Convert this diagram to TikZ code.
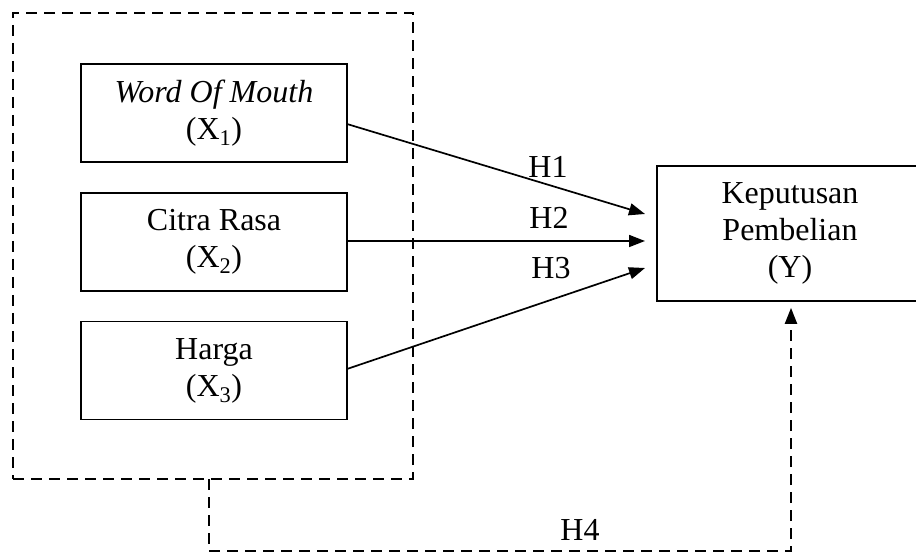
\documentclass[tikz,border=0pt]{standalone}
\usepackage{fontspec}
\setmainfont{Liberation Serif}
\usetikzlibrary{arrows.meta}
\begin{document}
\begin{tikzpicture}[x=1pt,y=-1pt,
  every node/.style={font=\fontsize{32}{37}\selectfont},
  varbox/.style={draw, line width=1.7pt, align=center, inner sep=0pt,
    minimum width=266pt, minimum height=98pt},
  groupbox/.style={draw, line width=2.1pt, dash pattern=on 11pt off 7pt,
    minimum width=400pt, minimum height=466pt, inner sep=0pt},
  link/.style={line width=1.7pt, -{Triangle[length=16pt,width=12pt]}},
  dlink/.style={line width=2.1pt, dash pattern=on 11pt off 7pt,
    -{Triangle[length=16pt,width=12pt]}},
  lbl/.style={inner sep=0pt}]
\clip (0,0) rectangle (916,553);
\useasboundingbox (0,0) rectangle (916,553);
\node[groupbox] (group) at (213,246) {};
\node[varbox] (x1) at (214,113) {\textit{Word Of Mouth}\\(X\textsubscript{1})};
\node[varbox] (x2) at (214,242) {Citra Rasa\\(X\textsubscript{2})};
\node[varbox] (x3) at (214,370.5) {Harga\\(X\textsubscript{3})};
\node[varbox, minimum height=135pt] (y) at (790,233.5) {Keputusan\\Pembelian\\(Y)};
\coordinate (s1) at (347,124);
\coordinate (e1) at (645,214);
\coordinate (s2) at (347,241);
\coordinate (e2) at (645,241);
\coordinate (s3) at (347,369);
\coordinate (e3) at (645,268);
\draw[link] (s1) -- (e1);
\draw[link] (s2) -- (e2);
\draw[link] (s3) -- (e3);
\node[lbl] (h1) at (548,167) {H1};
\node[lbl] (h2) at (549,218) {H2};
\node[lbl] (h3) at (551,268) {H3};
\coordinate (g4) at (209,479);
\coordinate (c1) at (209,551);
\coordinate (c2) at (791,551);
\draw[dlink, shorten >=6pt] (g4) -- (c1) -- (c2) -- (c2 |- y.south);
\node[lbl] (h4) at (580,530) {H4};
\end{tikzpicture}
\end{document}
